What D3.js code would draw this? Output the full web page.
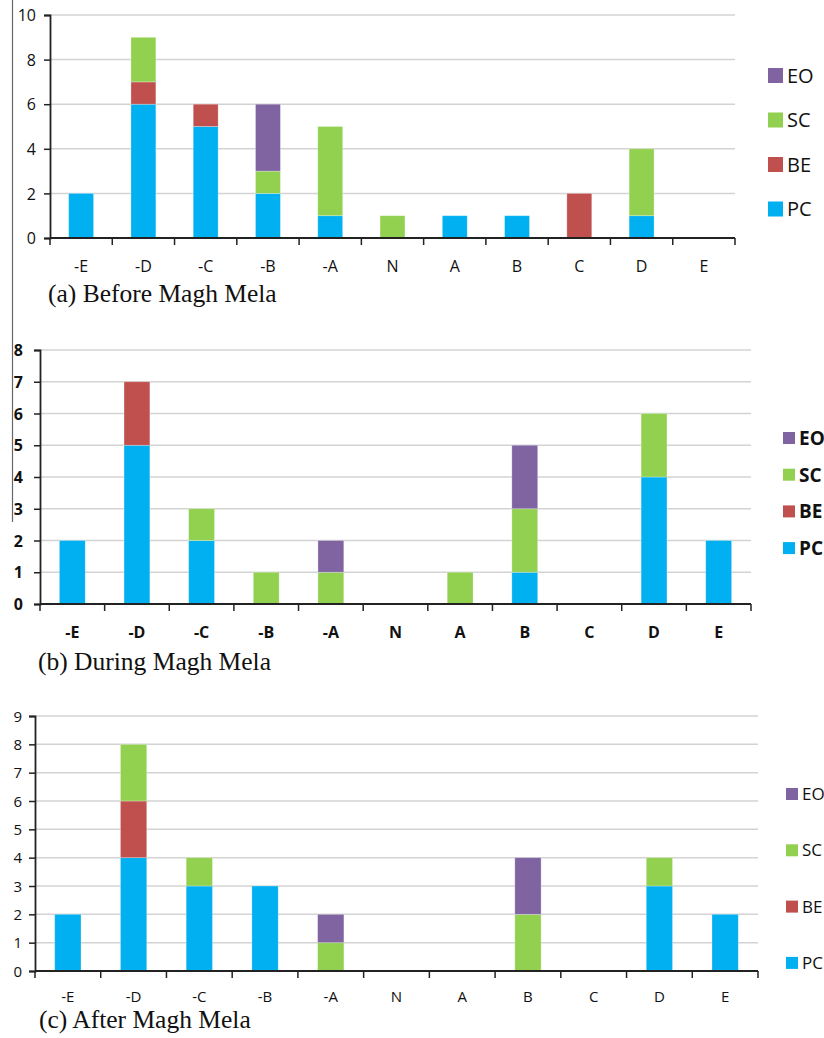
<!DOCTYPE html>
<meta charset="utf-8">
<title>Magh Mela</title>
<style>
    body { margin: 0; background: #fff; }
    svg { display: block; }
    .lbl { font-family: "Open Sans", "Liberation Sans", sans-serif; fill: #111; }
    .cap { font-family: "Liberation Serif", "DejaVu Serif", serif; fill: #111; }
</style>
<svg width="824" height="1038"></svg>
<script src="https://d3js.org/d3.v7.min.js"></script>
<script>

    var categories = ["-E", "-D", "-C", "-B", "-A", "N", "A", "B", "C", "D", "E"];
    var seriesNames = ["PC", "BE", "SC", "EO"];   // bottom to top
    var legendOrder = ["EO", "SC", "BE", "PC"];
    var colors = { PC: "#00b0f0", BE: "#c0504d", SC: "#92d050", EO: "#8064a2" };

    // (a) Before Magh Mela
    var beforePC = [2, 6, 5, 2, 1, 0, 1, 1, 0, 1, 0];
    var beforeBE = [0, 1, 1, 0, 0, 0, 0, 0, 2, 0, 0];
    var beforeSC = [0, 2, 0, 1, 4, 1, 0, 0, 0, 3, 0];
    var beforeEO = [0, 0, 0, 3, 0, 0, 0, 0, 0, 0, 0];

    // (b) During Magh Mela
    var duringPC = [2, 5, 2, 0, 0, 0, 0, 1, 0, 4, 2];
    var duringBE = [0, 2, 0, 0, 0, 0, 0, 0, 0, 0, 0];
    var duringSC = [0, 0, 1, 1, 1, 0, 1, 2, 0, 2, 0];
    var duringEO = [0, 0, 0, 0, 1, 0, 0, 2, 0, 0, 0];

    // (c) After Magh Mela
    var afterPC = [2, 4, 3, 3, 0, 0, 0, 0, 0, 3, 2];
    var afterBE = [0, 2, 0, 0, 0, 0, 0, 0, 0, 0, 0];
    var afterSC = [0, 2, 1, 0, 1, 0, 0, 2, 0, 1, 0];
    var afterEO = [0, 0, 0, 0, 1, 0, 0, 2, 0, 0, 0];

    var svg = d3.select("svg");

    // stray border line from the scanned page
    svg.append("line")
        .attr("x1", 12.5).attr("x2", 12.5)
        .attr("y1", 0).attr("y2", 522)
        .attr("stroke", "#666").attr("stroke-width", 1.2);

    var panels = [
        {
            caption: "(a) Before Magh Mela",
            values: { PC: beforePC, BE: beforeBE, SC: beforeSC, EO: beforeEO },
            yMax: 10, yStep: 2,
            left: 50, right: 735, top: 15, bottom: 238,
            tickFont: 16, bold: false, yLabelX: 36, xLabelY: 272,
            capX: 48, capY: 302, capFont: 25.5,
            legX: 768, legY: 68, legStep: 44.5, legBox: 15, legFont: 20
        },
        {
            caption: "(b) During Magh Mela",
            values: { PC: duringPC, BE: duringBE, SC: duringSC, EO: duringEO },
            yMax: 8, yStep: 1,
            left: 40, right: 751, top: 350, bottom: 604,
            tickFont: 16, bold: true, yLabelX: 23, xLabelY: 638,
            capX: 38, capY: 670, capFont: 25.5,
            legX: 783, legY: 432, legStep: 36.7, legBox: 12, legFont: 19
        },
        {
            caption: "(c) After Magh Mela",
            values: { PC: afterPC, BE: afterBE, SC: afterSC, EO: afterEO },
            yMax: 9, yStep: 1,
            left: 35, right: 758, top: 716, bottom: 971,
            tickFont: 15, bold: false, yLabelX: 22, xLabelY: 1002,
            capX: 39, capY: 1028, capFont: 25.5,
            legX: 786, legY: 788, legStep: 56.3, legBox: 12, legFont: 17
        }
    ];

    panels.forEach(drawPanel);

    function drawPanel(p) {
        var g = svg.append("g");

        var x = d3.scaleBand()
            .domain(categories)
            .range([p.left, p.right])
            .paddingInner(0.6)
            .paddingOuter(0.3);

        var y = d3.scaleLinear()
            .domain([0, p.yMax])
            .range([p.bottom, p.top]);

        var yTicks = d3.range(0, p.yMax + 0.001, p.yStep);

        // gridlines
        g.append("g")
            .selectAll("line")
            .data(yTicks.filter(function (t) { return t > 0; }))
            .enter().append("line")
            .attr("x1", p.left).attr("x2", p.right)
            .attr("y1", function (d) { return y(d); })
            .attr("y2", function (d) { return y(d); })
            .attr("stroke", "#d3d3d3")
            .attr("stroke-width", 1.5);

        // stacked bars
        var rows = categories.map(function (c, i) {
            var r = { cat: c };
            seriesNames.forEach(function (s) { r[s] = p.values[s][i]; });
            return r;
        });
        var stacked = d3.stack().keys(seriesNames)(rows);

        g.append("g")
            .selectAll("g")
            .data(stacked)
            .enter().append("g")
            .attr("fill", function (d) { return colors[d.key]; })
            .selectAll("rect")
            .data(function (d) { return d.filter(function (v) { return v[1] > v[0]; }); })
            .enter().append("rect")
            .attr("x", function (d) { return x(d.data.cat); })
            .attr("width", x.bandwidth())
            .attr("y", function (d) { return y(d[1]); })
            .attr("height", function (d) { return y(d[0]) - y(d[1]); })
            .attr("stroke", "#ffffff")
            .attr("stroke-opacity", 0.35)
            .attr("stroke-width", 0.8);

        // y axis
        var yAxis = g.append("g")
            .attr("transform", "translate(" + p.left + ",0)")
            .call(d3.axisLeft(y).tickValues(yTicks).tickSize(6).tickFormat(d3.format("d")));
        yAxis.select(".domain").attr("stroke", "#222").attr("stroke-width", 1.8);
        yAxis.selectAll(".tick line").attr("stroke", "#222").attr("stroke-width", 1.5);
        yAxis.selectAll(".tick text")
            .attr("class", "lbl")
            .attr("x", p.yLabelX - p.left)
            .attr("dy", "0.35em")
            .style("font-size", p.tickFont + "px")
            .style("font-weight", p.bold ? "bold" : "normal");
        yAxis.attr("font-family", null).attr("font-size", null);

        // x axis line, boundary ticks, centered labels
        var xAxis = g.append("g")
            .attr("transform", "translate(0," + p.bottom + ")")
            .call(d3.axisBottom(x).tickSize(0).tickPadding(0));
        xAxis.select(".domain").remove();
        xAxis.attr("font-family", null).attr("font-size", null);
        xAxis.selectAll(".tick text")
            .attr("class", "lbl")
            .attr("y", p.xLabelY - p.bottom)
            .attr("dy", 0)
            .style("font-size", p.tickFont + "px")
            .style("font-weight", p.bold ? "bold" : "normal");

        g.append("line")
            .attr("x1", p.left).attr("x2", p.right)
            .attr("y1", p.bottom).attr("y2", p.bottom)
            .attr("stroke", "#222").attr("stroke-width", 1.8);

        var bounds = d3.range(categories.length + 1).map(function (i) { return p.left + i * x.step(); });
        g.append("g")
            .selectAll("line")
            .data(bounds)
            .enter().append("line")
            .attr("x1", function (d) { return d; })
            .attr("x2", function (d) { return d; })
            .attr("y1", p.bottom)
            .attr("y2", p.bottom + 7)
            .attr("stroke", "#222")
            .attr("stroke-width", 1.5);

        // caption
        g.append("text")
            .attr("class", "cap")
            .attr("x", p.capX)
            .attr("y", p.capY)
            .style("font-size", p.capFont + "px")
            .text(p.caption);

        // legend
        var leg = g.append("g")
            .selectAll("g")
            .data(legendOrder)
            .enter().append("g")
            .attr("transform", function (d, i) {
                return "translate(" + p.legX + "," + (p.legY + i * p.legStep) + ")";
            });
        leg.append("rect")
            .attr("width", p.legBox)
            .attr("height", p.legBox)
            .attr("fill", function (d) { return colors[d]; });
        leg.append("text")
            .attr("class", "lbl")
            .attr("x", p.legBox + 4)
            .attr("y", p.legBox / 2)
            .attr("dy", "0.36em")
            .style("font-size", p.legFont + "px")
            .style("font-weight", p.bold ? "bold" : "normal")
            .text(function (d) { return d; });
    }

</script>
